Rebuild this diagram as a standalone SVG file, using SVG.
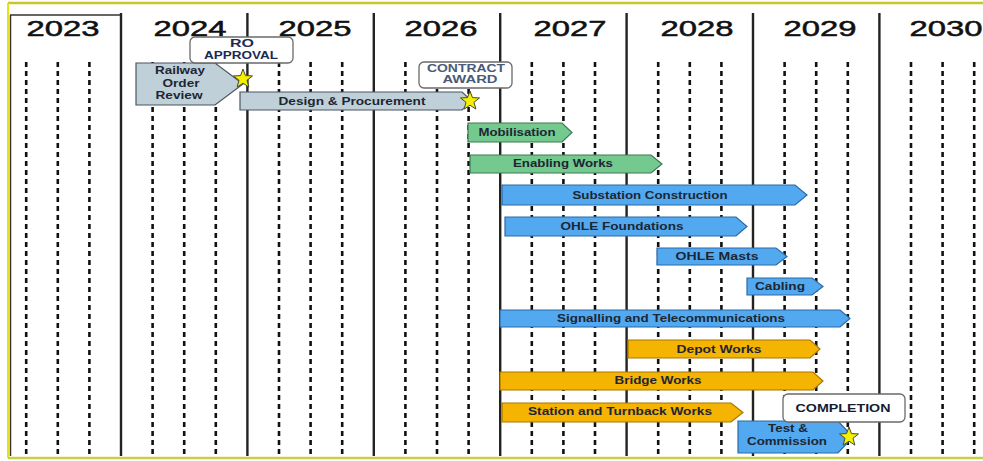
<svg xmlns="http://www.w3.org/2000/svg" width="983" height="461" viewBox="0 0 983 461">
<style>
.year{font-family:"Liberation Sans",Arial,sans-serif;font-size:22px;fill:#111;stroke:#111;stroke-width:0.5;text-anchor:middle}
.lbl{font-family:"Liberation Sans",Arial,sans-serif;font-size:11px;font-weight:bold;fill:#1e2633;text-anchor:middle}
.ms{font-family:"Liberation Sans",Arial,sans-serif;font-size:10.5px;font-weight:bold;fill:#1c2b55;text-anchor:middle}
.yl{stroke:#222;stroke-width:2.4}
.ql{stroke:#111;stroke-width:2.6;stroke-dasharray:5 4}
.gray{fill:#bfd0d8;stroke:#4a5560;stroke-width:1.2}
.green{fill:#74c98f;stroke:#3d7a52;stroke-width:1.2}
.blue{fill:#52a9ef;stroke:#2b6aa8;stroke-width:1.2}
.orange{fill:#f5b302;stroke:#a87700;stroke-width:1.2}
.call{fill:#fff;stroke:#6a6a6a;stroke-width:1.3}
.star{fill:#f4f000;stroke:#4a4a30;stroke-width:1}
</style>
<defs>
<path id="star" d="M0,-10 L2.47,-3.4 L9.51,-3.09 L3.99,1.3 L5.88,8.09 L0,4.2 L-5.88,8.09 L-3.99,1.3 L-9.51,-3.09 L-2.47,-3.4 Z"/>
</defs>
<rect width="983" height="461" fill="#fff"/>
<g id="frame">
<line x1="8" y1="3" x2="983" y2="3" stroke="#c9c62a" stroke-width="2.5"/>
<line x1="8" y1="3" x2="8" y2="458" stroke="#e6e21a" stroke-width="2"/>
<line x1="8" y1="458" x2="983" y2="458" stroke="#c5cf4a" stroke-width="2.5"/>
<line x1="10.5" y1="15" x2="10.5" y2="456" stroke="#333" stroke-width="1.5"/>
<line x1="10" y1="15" x2="121" y2="15" stroke="#333" stroke-width="1.5"/>
</g>
<g id="grid">
<g class="ql">
<line x1="26.2" y1="62" x2="26.2" y2="455"/><line x1="57.8" y1="62" x2="57.8" y2="455"/><line x1="89.4" y1="62" x2="89.4" y2="455"/>
<line x1="152.6" y1="62" x2="152.6" y2="455"/><line x1="184.2" y1="62" x2="184.2" y2="455"/><line x1="215.8" y1="62" x2="215.8" y2="455"/>
<line x1="279" y1="62" x2="279" y2="455"/><line x1="310.6" y1="62" x2="310.6" y2="455"/><line x1="342.2" y1="62" x2="342.2" y2="455"/>
<line x1="405.4" y1="62" x2="405.4" y2="455"/><line x1="437" y1="62" x2="437" y2="455"/><line x1="468.6" y1="62" x2="468.6" y2="455"/>
<line x1="531.8" y1="62" x2="531.8" y2="455"/><line x1="563.4" y1="62" x2="563.4" y2="455"/><line x1="595" y1="62" x2="595" y2="455"/>
<line x1="658.2" y1="62" x2="658.2" y2="455"/><line x1="689.8" y1="62" x2="689.8" y2="455"/><line x1="721.4" y1="62" x2="721.4" y2="455"/>
<line x1="784.6" y1="62" x2="784.6" y2="455"/><line x1="816.2" y1="62" x2="816.2" y2="455"/><line x1="847.8" y1="62" x2="847.8" y2="455"/>
<line x1="911" y1="62" x2="911" y2="455"/><line x1="942.6" y1="62" x2="942.6" y2="455"/><line x1="974.2" y1="62" x2="974.2" y2="455"/>
</g>
<g class="yl">
<line x1="121" y1="13" x2="121" y2="456"/><line x1="247.4" y1="13" x2="247.4" y2="456"/><line x1="373.8" y1="13" x2="373.8" y2="456"/>
<line x1="500.2" y1="13" x2="500.2" y2="456"/><line x1="626.6" y1="13" x2="626.6" y2="456"/><line x1="753" y1="13" x2="753" y2="456"/>
<line x1="879.4" y1="13" x2="879.4" y2="456"/>
</g>
<g id="years">
<text class="year" x="63" y="36" textLength="73" lengthAdjust="spacingAndGlyphs">2023</text>
<text class="year" x="190" y="36" textLength="73" lengthAdjust="spacingAndGlyphs">2024</text>
<text class="year" x="315" y="36" textLength="73" lengthAdjust="spacingAndGlyphs">2025</text>
<text class="year" x="441" y="36" textLength="73" lengthAdjust="spacingAndGlyphs">2026</text>
<text class="year" x="570" y="36" textLength="73" lengthAdjust="spacingAndGlyphs">2027</text>
<text class="year" x="697" y="36" textLength="73" lengthAdjust="spacingAndGlyphs">2028</text>
<text class="year" x="820" y="36" textLength="73" lengthAdjust="spacingAndGlyphs">2029</text>
<text class="year" x="946" y="36" textLength="73" lengthAdjust="spacingAndGlyphs">2030</text>
</g>
</g>
<g id="connectors"/>
<g id="railway-order-review">
<polygon class="gray" points="136,63 215,63 243,84 215,105 136,105"/>
<text class="lbl" x="180" y="74" textLength="50" lengthAdjust="spacingAndGlyphs">Railway</text>
<text class="lbl" x="181" y="87" textLength="37" lengthAdjust="spacingAndGlyphs">Order</text>
<text class="lbl" x="179" y="99" textLength="47" lengthAdjust="spacingAndGlyphs">Review</text>
</g>
<g id="design-procurement">
<polygon class="gray" points="240,92 462,92 472,101 462,110 240,110"/>
<text class="lbl" x="352" y="105" textLength="147" lengthAdjust="spacingAndGlyphs">Design &amp; Procurement</text>
</g>
<g id="mobilisation">
<polygon class="green" points="468,123 562,123 572,132.5 562,142 468,142"/>
<text class="lbl" x="517" y="136" textLength="77" lengthAdjust="spacingAndGlyphs">Mobilisation</text>
</g>
<g id="enabling-works">
<polygon class="green" points="470,155 651,155 662,164 651,173 470,173"/>
<text class="lbl" x="563" y="167" textLength="100" lengthAdjust="spacingAndGlyphs">Enabling Works</text>
</g>
<g id="substation-construction">
<polygon class="blue" points="502,185 795,185 807,195 795,205 502,205"/>
<text class="lbl" x="650" y="199" textLength="155" lengthAdjust="spacingAndGlyphs">Substation Construction</text>
</g>
<g id="ohle-foundations">
<polygon class="blue" points="505,217 736,217 747,226.5 736,236 505,236"/>
<text class="lbl" x="622" y="230" textLength="123" lengthAdjust="spacingAndGlyphs">OHLE Foundations</text>
</g>
<g id="ohle-masts">
<polygon class="blue" points="657,248 776,248 787,256.5 776,265 657,265"/>
<text class="lbl" x="717" y="260" textLength="83" lengthAdjust="spacingAndGlyphs">OHLE Masts</text>
</g>
<g id="cabling">
<polygon class="blue" points="747,278 812,278 823,286.5 812,295 747,295"/>
<text class="lbl" x="780" y="290" textLength="50" lengthAdjust="spacingAndGlyphs">Cabling</text>
</g>
<g id="signalling-telecommunications">
<polygon class="blue" points="500,310 840,310 850,318.5 840,327 500,327"/>
<text class="lbl" x="671" y="322" textLength="228" lengthAdjust="spacingAndGlyphs">Signalling and Telecommunications</text>
</g>
<g id="depot-works">
<polygon class="orange" points="628,340 810,340 820,349 810,358 628,358"/>
<text class="lbl" x="719" y="353" textLength="85" lengthAdjust="spacingAndGlyphs">Depot Works</text>
</g>
<g id="bridge-works">
<polygon class="orange" points="500,372 813,372 823,381 813,390 500,390"/>
<text class="lbl" x="658" y="384" textLength="87" lengthAdjust="spacingAndGlyphs">Bridge Works</text>
</g>
<g id="station-turnback-works">
<polygon class="orange" points="502,403 731,403 743,412.5 731,422 502,422"/>
<text class="lbl" x="620" y="415" textLength="184" lengthAdjust="spacingAndGlyphs">Station and Turnback Works</text>
</g>
<g id="test-commission">
<polygon class="blue" points="738,421 838,421 853,437 838,453 738,453"/>
<text class="lbl" x="788" y="432" textLength="40" lengthAdjust="spacingAndGlyphs">Test &amp;</text>
<text class="lbl" x="787" y="445" textLength="80" lengthAdjust="spacingAndGlyphs">Commission</text>
</g>
<g id="ro-approval">
<rect class="call" x="190" y="37" width="103" height="26" rx="5"/>
<text class="ms" x="242" y="47" textLength="24" lengthAdjust="spacingAndGlyphs">RO</text>
<text class="ms" x="241" y="59" textLength="74" lengthAdjust="spacingAndGlyphs">APPROVAL</text>
<use href="#star" class="star" x="243" y="79"/>
</g>
<g id="contract-award">
<rect class="call" x="419" y="62" width="93" height="26" rx="5"/>
<text class="ms" x="466" y="72" style="fill:#4a5a78" textLength="78" lengthAdjust="spacingAndGlyphs">CONTRACT</text>
<text class="ms" x="470" y="83" style="fill:#4a5a78" textLength="55" lengthAdjust="spacingAndGlyphs">AWARD</text>
<use href="#star" class="star" x="470" y="101"/>
</g>
<g id="completion">
<rect class="call" x="783" y="394" width="122" height="28" rx="5"/>
<text class="ms" x="843" y="412" style="fill:#151c30" textLength="95" lengthAdjust="spacingAndGlyphs">COMPLETION</text>
<use href="#star" class="star" x="849" y="437"/>
</g>
</svg>
